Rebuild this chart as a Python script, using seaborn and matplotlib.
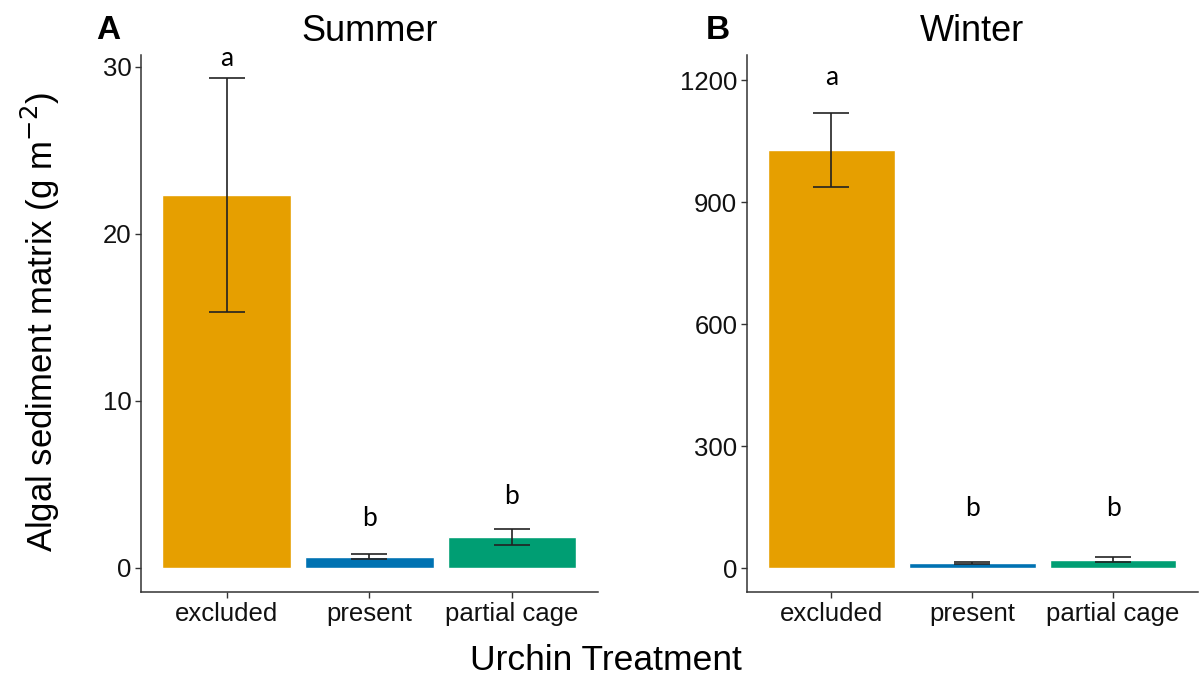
import matplotlib
matplotlib.use("Agg")
import matplotlib.pyplot as plt
import seaborn as sns
import pandas as pd

treatments = ["excluded", "present", "partial cage"]
colors = ["#E69F00", "#0072B2", "#009E73"]

summer_mean = [22.3, 0.68, 1.85]
summer_err = [7.0, 0.15, 0.48]
summer_letters = ["a", "b", "b"]
summer_letter_y = [30.5, 2.95, 4.3]

winter_mean = [1028, 12, 20]
winter_err = [91, 2, 6]
winter_letters = ["a", "b", "b"]
winter_letter_y = [1207, 147, 147]

summer_ticks = [0, 10, 20, 30]
winter_ticks = [0, 300, 600, 900, 1200]

sns.set_theme(style="white")
plt.rcParams["font.family"] = ["Liberation Sans", "DejaVu Sans"]
plt.rcParams["text.color"] = "black"

fig = plt.figure(figsize=(12, 6.84), dpi=100)
ax1 = fig.add_axes([0.1175, 0.1345, 0.3805, 0.785])
ax2 = fig.add_axes([0.6225, 0.1345, 0.3755, 0.785])

panels = [
    (ax1, summer_mean, summer_err, summer_letters, summer_letter_y, summer_ticks, (-1.44, 30.7), "Summer"),
    (ax2, winter_mean, winter_err, winter_letters, winter_letter_y, winter_ticks, (-59, 1262), "Winter"),
]

for ax, mean, err, letters, ly, ticks, ylim, title in panels:
    df = pd.DataFrame({"treatment": treatments, "value": mean})
    sns.barplot(data=df, x="treatment", y="value", hue="treatment",
                palette=colors, order=treatments, hue_order=treatments,
                width=0.9, legend=False, ax=ax, saturation=1, errorbar=None)
    ax.errorbar(range(len(treatments)), mean, yerr=err, fmt="none",
                ecolor="#222222", elinewidth=1.2, capsize=13, capthick=1.2, zorder=5)
    for i, (l, y) in enumerate(zip(letters, ly)):
        ax.text(i, y, l, ha="center", va="center", fontsize=19, color="black",
                family=["Lato", "DejaVu Sans"], clip_on=False)
    ax.set_xlim(-0.6, 2.6)
    ax.set_ylim(*ylim)
    ax.set_yticks(ticks)
    ax.set_yticklabels([str(t) for t in ticks])
    ax.set_xlabel("")
    ax.set_ylabel("")
    ax.set_title(title, fontsize=26, color="black", pad=10)
    for s in ["top", "right"]:
        ax.spines[s].set_visible(False)
    for s in ["left", "bottom"]:
        ax.spines[s].set_color("#333333")
        ax.spines[s].set_linewidth(1.1)
    ax.tick_params(axis="both", which="major", length=4, width=1, color="#333333",
                   labelsize=18.5, labelcolor="#111111", bottom=True, left=True, pad=3)

fig.text(0.09, 0.955, "A", fontsize=24, fontweight="bold", ha="center", va="center", color="black")
fig.text(0.598, 0.955, "B", fontsize=24, fontweight="bold", ha="center", va="center", color="black")

fig.text(0.034, 0.53, "Algal sediment matrix (g m$^{-2}$)", rotation=90,
         fontsize=25, ha="center", va="center", color="black")
fig.text(0.505, 0.035, "Urchin Treatment", fontsize=25.5, ha="center", va="center", color="black")

fig.savefig("out.png", dpi=100, facecolor="white")
